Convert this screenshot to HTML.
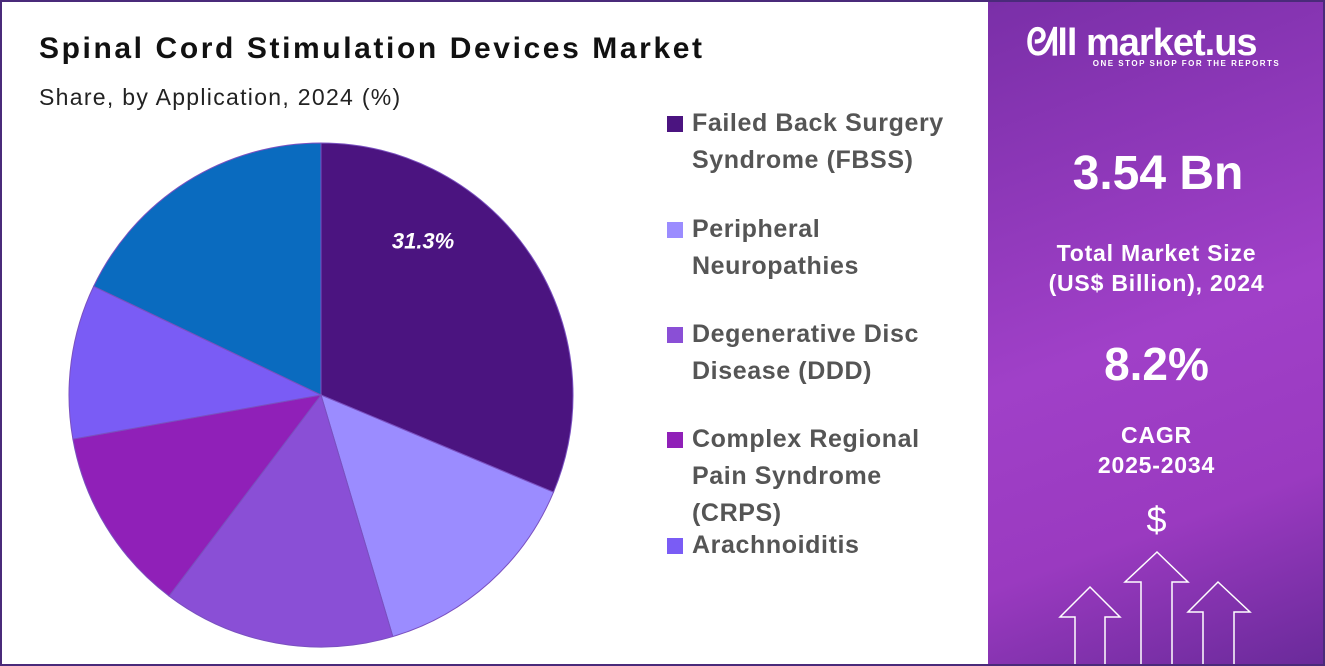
<!DOCTYPE html>
<html><head><meta charset="utf-8"><style>
body{margin:0;width:1325px;height:666px;overflow:hidden;font-family:"Liberation Sans",sans-serif;background:#fff}
#wrap{position:absolute;left:0;top:0;width:1321px;height:662px;border:2px solid #4a2a7a;overflow:hidden;background:#fff}
.title{position:absolute;left:37px;top:30px;font-size:30px;font-weight:bold;color:#111;letter-spacing:2.6px}
.sub{position:absolute;left:37px;top:82px;font-size:23px;color:#222;letter-spacing:1.3px}
.leg{position:absolute;left:665px;font-size:25px;font-weight:bold;color:#555;line-height:37px;letter-spacing:0.6px}
.leg i{position:absolute;left:0;top:11px;width:16px;height:16px}
.leg span{display:block;padding-left:25px}
#panel{position:absolute;left:986px;top:0;width:337px;height:662px;background:linear-gradient(160deg,#7a2fa8 0%,#a040c8 50%,#9a3ac0 75%,#6a2a9a 100%);color:#fff;text-align:center;font-weight:bold}
</style></head><body>
<div id="wrap">
<div class="title">Spinal Cord Stimulation Devices Market</div>
<div class="sub">Share, by Application, 2024 (%)</div>
<svg id="pie" width="980" height="662" style="position:absolute;left:0;top:0"></svg>
<div class="leg" style="top:103px"><i style="background:#4b1480"></i><span>Failed Back Surgery<br>Syndrome (FBSS)</span></div>
<div class="leg" style="top:209px"><i style="background:#9b8cff"></i><span>Peripheral<br>Neuropathies</span></div>
<div class="leg" style="top:314px"><i style="background:#8a4fd6"></i><span>Degenerative Disc<br>Disease (DDD)</span></div>
<div class="leg" style="top:419px"><i style="background:#9020b8"></i><span>Complex Regional<br>Pain Syndrome<br>(CRPS)</span></div>
<div class="leg" style="top:525px"><i style="background:#7a5cf5"></i><span>Arachnoiditis</span></div>
<div id="panel">
<div style="position:absolute;left:38px;top:20px;font-size:38px;letter-spacing:-1px">ᘛll market.us</div>
<div style="position:absolute;left:0;width:337px;top:57px;font-size:8px;letter-spacing:1.5px;padding-left:60px;box-sizing:border-box">ONE STOP SHOP FOR THE REPORTS</div>
<div style="position:absolute;left:0;width:340px;top:144px;font-size:48px">3.54 Bn</div>
<div style="position:absolute;left:0;width:337px;top:236px;font-size:23px;line-height:30px;letter-spacing:0.8px">Total Market Size<br>(US$ Billion), 2024</div>
<div style="position:absolute;left:0;width:337px;top:335px;font-size:46px">8.2%</div>
<div style="position:absolute;left:0;width:337px;top:418px;font-size:23px;line-height:30px;letter-spacing:0.8px">CAGR<br>2025-2034</div>
<div style="position:absolute;left:0;width:337px;top:497px;font-size:36px;font-weight:normal">$</div>
<svg width="337" height="662" style="position:absolute;left:0;top:0" fill="none" stroke="#fff" stroke-width="1.5">
<path d="M87 662 L87 615 L72 615 L102 585 L132 615 L117 615 L117 662"/>
<path d="M153 662 L153 580 L137 580 L169 550 L200 580 L184 580 L184 662"/>
<path d="M215 662 L215 610 L200 610 L230 580 L262 610 L246 610 L246 662"/>
</svg>
</div>
</div>
<script>
const categories=["FBSS","Peripheral Neuropathies","DDD","CRPS","Arachnoiditis","Others"];
const values=[31.3,14.1,14.9,11.9,9.9,17.9];
const colors=["#4b1480","#9b8cff","#8a4fd6","#9020b8","#7a5cf5","#0a6bbf"];
const labels=["31.3%","","","","",""];
const svg=document.getElementById('pie');
const NS="http://www.w3.org/2000/svg";
const cx=319,cy=393,r=252;
const total=values.reduce((a,b)=>a+b,0);
function pt(a,rr){return [cx+rr*Math.sin(a),cy-rr*Math.cos(a)];}
let acc=0;
values.forEach((v,i)=>{
 const a0=acc/total*2*Math.PI;acc+=v;const a1=acc/total*2*Math.PI;
 const p0=pt(a0,r),p1=pt(a1,r);
 const p=document.createElementNS(NS,'path');
 p.setAttribute('d',`M${cx} ${cy} L${p0[0]} ${p0[1]} A${r} ${r} 0 ${a1-a0>Math.PI?1:0} 1 ${p1[0]} ${p1[1]} Z`);
 p.setAttribute('fill',colors[i]);p.setAttribute('stroke','#7a50c0');p.setAttribute('stroke-width','1');
 
 
 svg.appendChild(p);
 if(labels[i]){
  const m=pt((a0+a1)/2,r*0.62);
  const t=document.createElementNS(NS,'text');
  t.setAttribute('x',m[0]-28);t.setAttribute('y',m[1]-60);
  t.setAttribute('fill','#fff');t.setAttribute('font-size','22');t.setAttribute('font-weight','bold');t.setAttribute('font-style','italic');
  t.setAttribute('text-anchor','middle');t.setAttribute('font-family','Liberation Sans, sans-serif');
  t.textContent=labels[i];
  
  
  svg.appendChild(t);
 }
});
</script>
</body></html>
